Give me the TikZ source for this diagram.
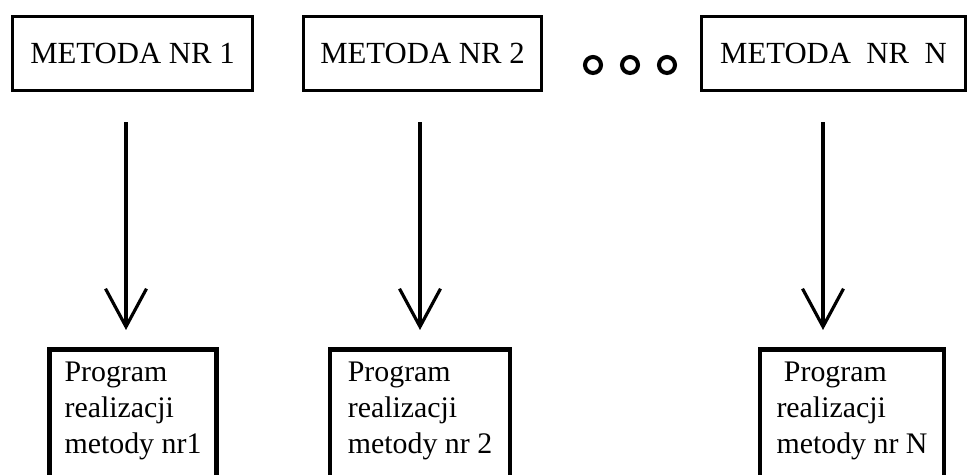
\documentclass[tikz,border=0pt]{standalone}
\usepackage{fontspec}
\setmainfont{Liberation Serif}
\usetikzlibrary{positioning, arrows.meta}

\begin{document}
\begin{tikzpicture}[
    x=0.02cm, y=-0.02cm,
    metoda/.style={draw, line width=2.1pt, minimum height=1.48cm, inner sep=0pt, font=\fontsize{17.5pt}{21pt}\selectfont},
    program/.style={draw, line width=2.6pt, anchor=north, align=left, inner xsep=0.3cm, inner ysep=0.26cm, text depth=2.5cm, font=\fontsize{17pt}{20.4pt}\selectfont},
    dot/.style={circle, draw, line width=2.3pt, minimum size=0.32cm, inner sep=0pt},
    arr/.style={-{Straight Barb[length=0.76cm, width=0.82cm]}, line width=1.8pt, shorten <=0.6cm, shorten >=0.34cm}]

		\path[use as bounding box] (0,0) rectangle (968,475);
		\clip (0,0) rectangle (968,475);

		\node[metoda, minimum width=4.8cm] (m1) at (132.5,53.5) {METODA NR 1};
		\node[metoda, minimum width=4.76cm] (m2) at (422.5,53.5) {METODA NR 2};
		\node[metoda, minimum width=5.28cm] (mN) at (833.5,53.5) {METODA\ \ NR\ \ N};

		\node[dot] (d1) at (593,65) {};
		\node[dot] (d2) at (630,65) {};
		\node[dot] (d3) at (667,65) {};

		\node[program, minimum width=3.28cm] (p1) at (133,347) {Program\\realizacji\\metody nr1};
		\node[program, minimum width=3.6cm] (p2) at (420,347) {Program\\realizacji\\metody nr 2};
		\node[program, minimum width=3.68cm] (pN) at (852,347) {\ Program\\realizacji\\metody nr N};

		% arrows are not centred on the boxes
		\coordinate (a1) at (126,0);
		\coordinate (a2) at (420,0);
		\coordinate (aN) at (823,0);

		\draw[arr] (m1.south -| a1) -- (p1.north -| a1);
		\draw[arr] (m2.south -| a2) -- (p2.north -| a2);
		\draw[arr] (mN.south -| aN) -- (pN.north -| aN);

\end{tikzpicture}
\end{document}
